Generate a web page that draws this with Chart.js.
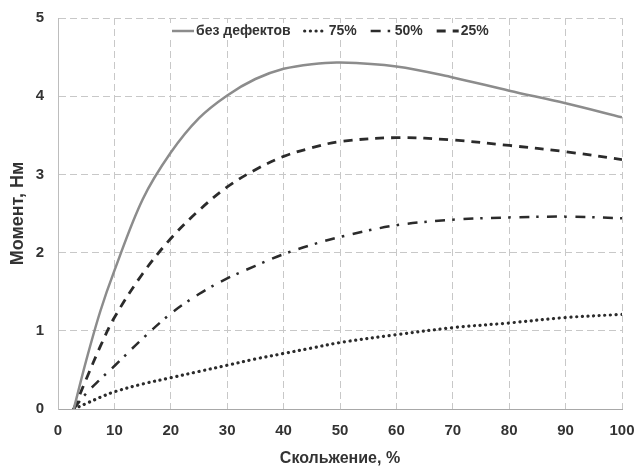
<!DOCTYPE html>
<html>
<head>
<meta charset="utf-8">
<script src="https://cdn.jsdelivr.net/npm/chart.js@4/dist/chart.umd.min.js"></script>
<style>
  body { margin: 0; background: #fff; }
</style>
</head>
<body>
<canvas id="grafico" width="636" height="469"></canvas>
<script>
// Скольжение, % (общая ось для всех кривых)
const skolzhenie = [2.8, 5, 7.5, 10, 15, 20, 25, 30, 35, 40, 45, 50, 60, 70, 80, 90, 100];

// Момент, Нм
const bezDefektov = [0, 0.62, 1.25, 1.77, 2.68, 3.28, 3.72, 4.01, 4.22, 4.35, 4.41, 4.43, 4.38, 4.24, 4.07, 3.91, 3.73];
const moment75 = [0, 0.07, 0.15, 0.22, 0.32, 0.40, 0.48, 0.56, 0.64, 0.71, 0.78, 0.85, 0.95, 1.04, 1.10, 1.17, 1.21];
const moment50 = [0, 0.20, 0.38, 0.55, 0.90, 1.22, 1.47, 1.67, 1.83, 1.98, 2.10, 2.20, 2.35, 2.42, 2.45, 2.46, 2.44];
const moment25 = [0, 0.38, 0.80, 1.17, 1.73, 2.18, 2.54, 2.84, 3.06, 3.23, 3.34, 3.42, 3.47, 3.44, 3.37, 3.29, 3.19];

const legendas = ['без дефектов', '75%', '50%', '25%'];

const fonte = "'Liberation Sans', Arial, sans-serif";
const corTexto = '#333';

function pontos(valores) {
    return skolzhenie.map((x, i) => ({ x: x, y: valores[i] }));
}

// Легенда внутри области графика, на белом фоне
const legendaPlugin = {
    id: 'legendaInterna',
    afterDraw(chart) {
        const ctx = chart.ctx;
        ctx.save();
        ctx.fillStyle = '#fff';
        ctx.fillRect(169, 23, 324, 17);
        ctx.font = 'bold 14px ' + fonte;
        ctx.textBaseline = 'middle';
        let x = 172;
        const y = 31;
        chart.data.datasets.forEach((ds) => {
            ctx.strokeStyle = ds.borderColor;
            ctx.lineWidth = ds.borderWidth;
            ctx.lineCap = ds.borderCapStyle || 'butt';
            ctx.setLineDash(ds.borderDash || []);
            ctx.beginPath();
            ctx.moveTo(x, y);
            ctx.lineTo(x + 22, y);
            ctx.stroke();
            x += 24;
            ctx.fillStyle = corTexto;
            ctx.fillText(ds.label, x, y);
            x += ctx.measureText(ds.label).width + 14;
        });
        ctx.restore();
    }
};

new Chart(document.getElementById('grafico').getContext('2d'), {
    type: 'line',
    data: {
        datasets: [
            {
                label: legendas[0],
                data: pontos(bezDefektov),
                borderColor: '#8c8c8c',
                borderWidth: 2.5
            },
            {
                label: legendas[1],
                data: pontos(moment75),
                borderColor: '#2b2b2b',
                borderWidth: 3.2,
                borderCapStyle: 'round',
                borderDash: [0.1, 5.6]
            },
            {
                label: legendas[2],
                data: pontos(moment50),
                borderColor: '#2b2b2b',
                borderWidth: 2.5,
                borderDash: [10, 7, 2.5, 8.5]
            },
            {
                label: legendas[3],
                data: pontos(moment25),
                borderColor: '#2b2b2b',
                borderWidth: 2.8,
                borderDash: [9, 7]
            }
        ]
    },
    options: {
        responsive: false,
        animation: false,
        elements: {
            point: { radius: 0 },
            line: { tension: 0.35 }
        },
        layout: { padding: { top: 18, right: 14, left: 0, bottom: 0 } },
        plugins: {
            legend: { display: false },
            tooltip: { enabled: false }
        },
        scales: {
            x: {
                type: 'linear',
                min: 0,
                max: 100,
                afterFit: (scale) => {
                    scale.height = 60;
                    scale.paddingLeft = 0;
                    scale.paddingRight = 0;
                },
                ticks: {
                    stepSize: 10,
                    padding: 13,
                    color: corTexto,
                    font: { family: fonte, size: 15, weight: 'bold' }
                },
                grid: { color: '#c8c8c8', drawTicks: false },
                border: { color: '#a8a8a8', width: 1, dash: [7, 4] },
                title: {
                    display: true,
                    text: 'Скольжение, %',
                    color: corTexto,
                    padding: { top: 0, bottom: 1 },
                    font: { family: fonte, size: 16, weight: 'bold' }
                }
            },
            y: {
                min: 0,
                max: 5,
                afterFit: (scale) => {
                    scale.width = 58;
                    scale.paddingTop = 0;
                    scale.paddingBottom = 0;
                },
                ticks: {
                    stepSize: 1,
                    padding: 14,
                    color: corTexto,
                    font: { family: fonte, size: 15, weight: 'bold' }
                },
                grid: { color: '#c8c8c8', drawTicks: false },
                border: { color: '#bdbdbd', width: 1, dash: [7, 4] },
                title: {
                    display: true,
                    text: 'Момент, Нм',
                    color: corTexto,
                    padding: { top: 7, bottom: 0 },
                    font: { family: fonte, size: 18, weight: 'bold' }
                }
            }
        }
    },
    plugins: [legendaPlugin]
});
</script>
</body>
</html>
